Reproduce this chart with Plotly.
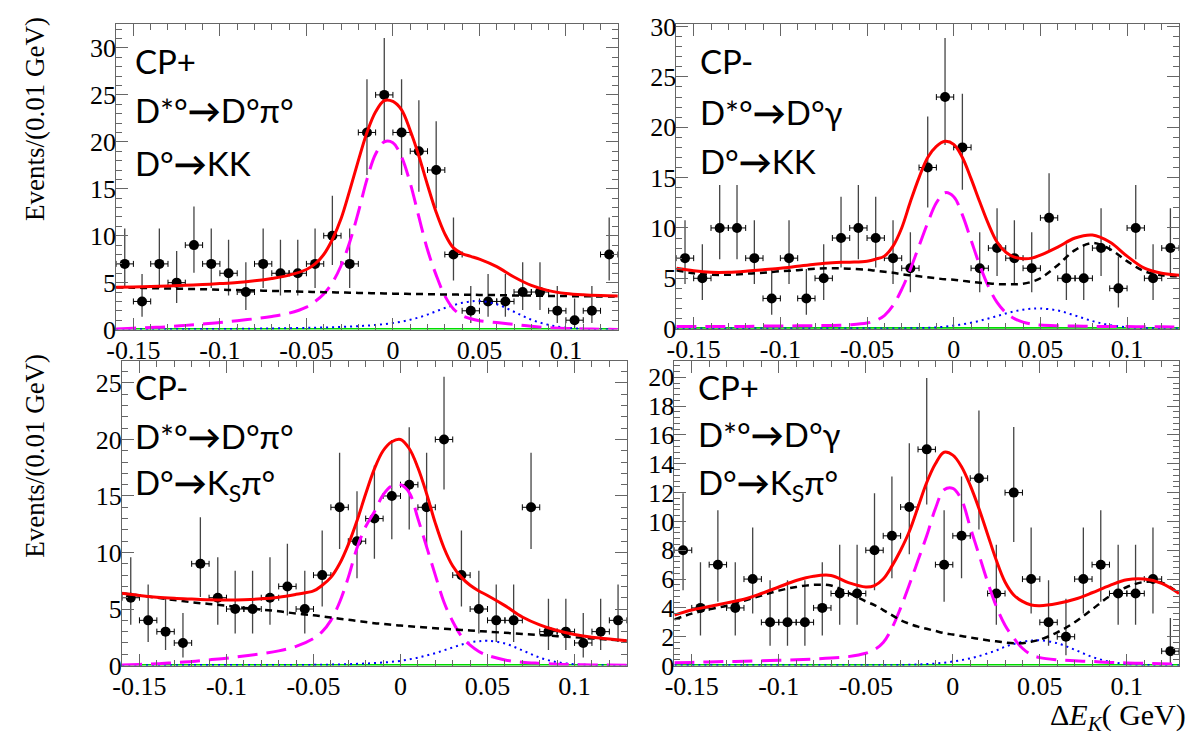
import plotly.graph_objects as go

W, H = 1188, 752

# ---------------- data ----------------
bin_centers = [-0.155, -0.145, -0.135, -0.125, -0.115, -0.105, -0.095, -0.085, -0.075, -0.065,
               -0.055, -0.045, -0.035, -0.025, -0.015, -0.005, 0.005, 0.015, 0.025, 0.035,
               0.045, 0.055, 0.065, 0.075, 0.085, 0.095, 0.105, 0.115, 0.125]

counts_p1 = [7, 3, 7, 5, 9, 7, 6, 4, 7, 6, 6, 7, 10, 7, 21, 25, 21, 19, 17, 8, 2, 3, 3, 4, 4, 2, 1, 2, 8]
counts_p2 = [7, 5, 10, 10, 7, 3, 7, 3, 5, 9, 10, 9, 7, 6, 16, 23, 18, 6, 8, 7, 6, 11, 5, 5, 8, 4, 10, 5, 8]
counts_p3 = [6, 4, 3, 2, 9, 6, 5, 5, 6, 7, 5, 8, 14, 11, 13, 15, 16, 14, 20, 8, 5, 4, 4, 14, 3, 3, 2, 3, 4]
counts_p4 = [8, 4, 7, 4, 6, 3, 3, 3, 4, 5, 5, 8, 9, 11, 15, 7, 9, 13, 5, 12, 6, 3, 2, 6, 7, 5, 5, 6, 1]

# Poisson (Garwood 68%) error table: n -> (low, high)
poisson_err = {
    0: (0.00, 1.84), 1: (0.83, 2.30), 2: (1.29, 2.64), 3: (1.63, 2.92), 4: (1.91, 3.16),
    5: (2.16, 3.38), 6: (2.38, 3.58), 7: (2.58, 3.77), 8: (2.77, 3.95), 9: (2.94, 4.11),
    10: (3.11, 4.27), 11: (3.27, 4.42), 12: (3.42, 4.56), 13: (3.56, 4.70), 14: (3.70, 4.83),
    15: (3.83, 4.96), 16: (3.96, 5.08), 17: (4.08, 5.20), 18: (4.20, 5.32), 19: (4.32, 5.44),
    20: (4.43, 5.55), 21: (4.54, 5.66), 22: (4.65, 5.76), 23: (4.76, 5.87), 24: (4.86, 5.97),
    25: (4.97, 6.07),
}

curve_x = [-0.16, -0.15, -0.14, -0.13, -0.12, -0.11, -0.10, -0.09, -0.08, -0.07, -0.06, -0.05,
           -0.045, -0.04, -0.035, -0.03, -0.025, -0.02, -0.015, -0.01, -0.005, 0.0, 0.005, 0.01,
           0.015, 0.02, 0.025, 0.03, 0.035, 0.04, 0.045, 0.05, 0.06, 0.07, 0.08, 0.09, 0.10, 0.11,
           0.12, 0.13]

# Panel 1: CP+, D*0 -> D0 pi0, D0 -> KK
total_p1 = [4.5, 4.55, 4.6, 4.65, 4.72, 4.8, 4.9, 5.02, 5.2, 5.45, 5.8, 6.4,
            7.0, 8.0, 9.6, 11.8, 14.8, 18.0, 21.0, 23.2, 24.4, 24.3, 23.4, 21.2,
            18.5, 15.4, 12.5, 10.2, 8.7, 8.1, 7.8, 7.5, 6.7, 5.6, 4.7, 4.15, 3.85, 3.7,
            3.62, 3.58]
bkg_p1 = [4.5, 4.46, 4.42, 4.38, 4.34, 4.3, 4.25, 4.21, 4.17, 4.12, 4.08, 4.03,
          4.01, 3.99, 3.97, 3.95, 3.93, 3.91, 3.89, 3.87, 3.85, 3.83, 3.82, 3.80,
          3.79, 3.77, 3.76, 3.74, 3.73, 3.72, 3.71, 3.69, 3.67, 3.64, 3.62, 3.59, 3.57, 3.55,
          3.53, 3.51]
sig_p1 = [0.07, 0.15, 0.22, 0.3, 0.45, 0.6, 0.75, 0.95, 1.15, 1.4, 1.75, 2.4,
          3.0, 3.8, 5.0, 6.8, 9.3, 12.5, 16.0, 18.7, 20.0, 19.9, 18.4, 15.6,
          12.0, 8.5, 5.8, 3.6, 2.2, 1.5, 1.15, 0.95, 0.75, 0.55, 0.35, 0.2, 0.12, 0.07,
          0.04, 0.02]
peak_p1 = [0.02, 0.02, 0.03, 0.03, 0.04, 0.05, 0.06, 0.08, 0.1, 0.12, 0.15, 0.18,
           0.2, 0.22, 0.25, 0.28, 0.32, 0.37, 0.42, 0.5, 0.58, 0.7, 0.85, 1.05,
           1.3, 1.6, 1.95, 2.3, 2.6, 2.85, 3.0, 3.05, 2.7, 1.9, 1.05, 0.5, 0.2, 0.08,
           0.03, 0.01]

# Panel 2: CP-, D*0 -> D0 gamma, D0 -> KK
total_p2 = [6.0, 5.75, 5.6, 5.6, 5.7, 5.85, 6.0, 6.2, 6.4, 6.55, 6.6, 6.7,
            6.9, 7.2, 8.2, 10.0, 12.6, 15.0, 17.0, 18.1, 18.6, 18.3, 17.0, 14.9,
            12.6, 10.4, 8.6, 7.6, 7.1, 6.95, 7.0, 7.3, 8.1, 9.0, 9.3, 8.6, 7.2, 6.0,
            5.5, 5.3]
bkg_p2 = [5.8, 5.5, 5.35, 5.35, 5.45, 5.55, 5.7, 5.8, 5.95, 6.0, 5.95, 5.85,
          5.75, 5.65, 5.55, 5.4, 5.3, 5.2, 5.1, 5.0, 4.9, 4.85, 4.75, 4.65,
          4.55, 4.5, 4.42, 4.4, 4.4, 4.45, 4.65, 5.0, 6.3, 7.8, 8.5, 7.9, 6.7, 5.7,
          5.3, 5.2]
sig_p2 = [0.2, 0.2, 0.2, 0.22, 0.22, 0.25, 0.25, 0.28, 0.3, 0.32, 0.38, 0.55,
          0.8, 1.3, 2.3, 3.9, 5.9, 8.2, 10.5, 12.5, 13.5, 13.1, 11.3, 8.8,
          6.3, 4.2, 2.6, 1.6, 1.0, 0.65, 0.45, 0.35, 0.28, 0.25, 0.22, 0.2, 0.2, 0.18,
          0.18, 0.17]
peak_p2 = [0.02, 0.02, 0.02, 0.02, 0.02, 0.02, 0.02, 0.02, 0.02, 0.02, 0.02, 0.02,
           0.02, 0.02, 0.02, 0.02, 0.03, 0.05, 0.08, 0.12, 0.2, 0.3, 0.42, 0.58,
           0.78, 1.0, 1.25, 1.5, 1.72, 1.88, 1.98, 2.0, 1.8, 1.3, 0.75, 0.35, 0.13, 0.05,
           0.02, 0.01]

# Panel 3: CP-, D*0 -> D0 pi0, D0 -> KS pi0
total_p3 = [6.4, 6.2, 6.05, 5.95, 5.88, 5.82, 5.8, 5.82, 5.9, 6.05, 6.3, 6.6,
            7.1, 7.8, 9.0, 10.7, 12.8, 15.2, 17.4, 19.0, 19.8, 20.0, 19.2, 17.5,
            15.2, 12.6, 10.4, 8.8, 7.8, 7.1, 6.6, 6.2, 5.3, 4.3, 3.6, 3.1, 2.75, 2.5,
            2.35, 2.2]
bkg_p3 = [6.4, 6.2, 6.0, 5.8, 5.6, 5.45, 5.3, 5.1, 4.95, 4.8, 4.6, 4.45,
          4.35, 4.25, 4.15, 4.05, 3.95, 3.85, 3.75, 3.68, 3.6, 3.55, 3.48, 3.42,
          3.36, 3.3, 3.25, 3.2, 3.15, 3.1, 3.05, 3.0, 2.9, 2.8, 2.7, 2.6, 2.5, 2.4,
          2.3, 2.2]
sig_p3 = [0.05, 0.1, 0.15, 0.25, 0.35, 0.5, 0.65, 0.85, 1.05, 1.3, 1.7, 2.4,
          3.0, 4.0, 5.6, 7.8, 10.4, 12.3, 13.6, 15.1, 15.9, 16.0, 15.3, 13.0,
          10.5, 8.0, 5.6, 3.9, 2.6, 1.8, 1.25, 0.9, 0.5, 0.3, 0.2, 0.12, 0.08, 0.05,
          0.04, 0.03]
peak_p3 = [0.03, 0.03, 0.03, 0.03, 0.04, 0.04, 0.04, 0.04, 0.05, 0.05, 0.05, 0.06,
           0.07, 0.08, 0.1, 0.12, 0.15, 0.18, 0.22, 0.27, 0.33, 0.42, 0.55, 0.7,
           0.9, 1.1, 1.35, 1.6, 1.85, 2.05, 2.15, 2.2, 1.95, 1.35, 0.7, 0.3, 0.12, 0.05,
           0.02, 0.01]

# Panel 4: CP+, D*0 -> D0 gamma, D0 -> KS pi0
total_p4 = [3.5, 3.85, 4.1, 4.35, 4.6, 5.0, 5.45, 5.9, 6.2, 6.25, 5.75, 5.45,
            5.55, 6.0, 6.9, 8.0, 9.3, 11.0, 12.7, 14.0, 14.8, 14.6, 13.8, 12.5,
            10.9, 9.1, 7.3, 5.8, 4.9, 4.45, 4.2, 4.15, 4.3, 4.6, 5.05, 5.55, 5.95, 6.0,
            5.7, 5.0]
bkg_p4 = [3.2, 3.6, 3.9, 4.15, 4.5, 4.85, 5.2, 5.45, 5.6, 5.55, 5.05, 4.45,
          4.2, 3.85, 3.5, 3.15, 2.9, 2.7, 2.55, 2.4, 2.25, 2.15, 2.05, 1.95,
          1.85, 1.75, 1.68, 1.6, 1.55, 1.55, 1.65, 1.8, 2.3, 3.0, 3.9, 4.8, 5.45, 5.8,
          5.75, 5.0]
sig_p4 = [0.2, 0.22, 0.25, 0.28, 0.3, 0.33, 0.37, 0.4, 0.45, 0.52, 0.62, 0.85,
          1.1, 1.6, 2.6, 4.0, 5.6, 7.3, 9.0, 10.9, 12.2, 12.3, 11.5, 9.6,
          7.7, 5.8, 4.1, 2.8, 1.9, 1.2, 0.75, 0.55, 0.4, 0.33, 0.28, 0.22, 0.18, 0.15,
          0.12, 0.1]
peak_p4 = [0.02, 0.02, 0.02, 0.02, 0.02, 0.02, 0.02, 0.02, 0.02, 0.02, 0.02, 0.02,
           0.02, 0.03, 0.03, 0.04, 0.05, 0.07, 0.1, 0.14, 0.2, 0.28, 0.38, 0.5,
           0.65, 0.85, 1.05, 1.3, 1.5, 1.65, 1.73, 1.75, 1.55, 1.1, 0.6, 0.27, 0.1, 0.04,
           0.02, 0.01]

zero_x = [-0.16, 0.13]
zero_y = [0, 0]

ARROW = "<b>→</b>"
labels_p1 = ["CP+", f"D*°{ARROW}D°π°", f"D°{ARROW}KK"]
labels_p2 = ["CP-", f"D*°{ARROW}D°γ", f"D°{ARROW}KK"]
labels_p3 = ["CP-", f"D*°{ARROW}D°π°", f"D°{ARROW}K<sub>S</sub>π°"]
labels_p4 = ["CP+", f"D*°{ARROW}D°γ", f"D°{ARROW}K<sub>S</sub>π°"]

x_tickvals = [-0.15, -0.1, -0.05, 0, 0.05, 0.1]
x_ticktext = ["-0.15", "-0.1", "-0.05", "0", "0.05", "0.1"]
x_range = [-0.16, 0.13]

y_title = "Events/(0.01 GeV)"
x_title = "Δ<i>E</i><sub><i>K</i></sub>( GeV)"

# ---------------- layout (pixel geometry) ----------------
panels = [
    dict(box=(107, 613, 13, 330), ymax=32.6, ydt=5, ymin_dt=1,
         counts=counts_p1, tot=total_p1, bkg=bkg_p1, sig=sig_p1, pk=peak_p1,
         labels=labels_p1, lab_x=124, lab_y=[52, 103, 157]),
    dict(box=(672, 1179, 13, 329), ymax=30.3, ydt=5, ymin_dt=1,
         counts=counts_p2, tot=total_p2, bkg=bkg_p2, sig=sig_p2, pk=peak_p2,
         labels=labels_p2, lab_x=694, lab_y=[52, 105, 155]),
    dict(box=(113, 622, 363, 678), ymax=26.9, ydt=5, ymin_dt=1,
         counts=counts_p3, tot=total_p3, bkg=bkg_p3, sig=sig_p3, pk=peak_p3,
         labels=labels_p3, lab_x=124, lab_y=[389, 440, 490]),
    dict(box=(670, 1179, 363, 678), ymax=21.1, ydt=2, ymin_dt=0.4,
         counts=counts_p4, tot=total_p4, bkg=bkg_p4, sig=sig_p4, pk=peak_p4,
         labels=labels_p4, lab_x=692, lab_y=[389, 438, 490]),
]

FRAME = "#666666"
SERIF = "Liberation Serif, Times New Roman, serif"
TICKFONT = dict(family=SERIF, size=26, color="black")
LABFONT = dict(family="Lato, 'Noto Sans', 'DejaVu Sans', sans-serif", size=33, color="black")

fig = go.Figure()
layout = dict(width=W, height=H, margin=dict(l=0, r=0, t=0, b=0),
              paper_bgcolor="white", plot_bgcolor="white", showlegend=False)
annotations = []

for i, p in enumerate(panels):
    n = i + 1
    xa = "x" if n == 1 else f"x{n}"
    ya = "y" if n == 1 else f"y{n}"
    l, r, t, b = p["box"]
    layout["xaxis" if n == 1 else f"xaxis{n}"] = dict(
        domain=[l / W, r / W], anchor=ya, range=x_range,
        tickvals=x_tickvals, ticktext=x_ticktext, tickfont=TICKFONT,
        ticks="inside", ticklen=12, tickcolor=FRAME, tickwidth=1,
        showline=True, linecolor=FRAME, linewidth=1, mirror="allticks",
        showgrid=False, zeroline=False, ticklabelstandoff=-3,
        minor=dict(ticks="inside", ticklen=6, dtick=0.01, tick0=0, tickcolor=FRAME, showgrid=False),
    )
    layout["yaxis" if n == 1 else f"yaxis{n}"] = dict(
        domain=[1 - b / H, 1 - t / H], anchor=xa, range=[0, p["ymax"]],
        dtick=p["ydt"], tick0=0, tickfont=TICKFONT,
        ticks="inside", ticklen=12, tickcolor=FRAME, tickwidth=1,
        showline=True, linecolor=FRAME, linewidth=1, mirror="allticks",
        showgrid=False, zeroline=False, ticklabelstandoff=-6,
        minor=dict(ticks="inside", ticklen=6, dtick=p["ymin_dt"], tick0=0, tickcolor=FRAME, showgrid=False),
    )

    cnt = p["counts"]
    err_hi = [poisson_err[c][1] for c in cnt]
    err_lo = [poisson_err[c][0] for c in cnt]

    fig.add_trace(go.Scatter(
        x=bin_centers, y=cnt, mode="markers", xaxis=xa, yaxis=ya,
        marker=dict(color="black", size=10),
        error_y=dict(type="data", array=err_hi, arrayminus=err_lo, symmetric=False,
                     color="#444444", thickness=1.3, width=0),
        error_x=dict(type="constant", value=0.005, color="black", thickness=1, width=3),
        hoverinfo="skip",
    ))
    fig.add_trace(go.Scatter(x=zero_x, y=zero_y, mode="lines", xaxis=xa, yaxis=ya,
                             line=dict(color="#00dd00", width=3), hoverinfo="skip"))
    fig.add_trace(go.Scatter(x=curve_x, y=p["pk"], mode="lines", xaxis=xa, yaxis=ya,
                             line=dict(color="#0000ff", width=2, dash="2px,4px", shape="spline", smoothing=1),
                             hoverinfo="skip"))
    fig.add_trace(go.Scatter(x=curve_x, y=p["sig"], mode="lines", xaxis=xa, yaxis=ya,
                             line=dict(color="#ff00ff", width=3, dash="20px,9px", shape="spline", smoothing=1),
                             hoverinfo="skip"))
    fig.add_trace(go.Scatter(x=curve_x, y=p["bkg"], mode="lines", xaxis=xa, yaxis=ya,
                             line=dict(color="black", width=2.5, dash="7px,5px", shape="spline", smoothing=1),
                             hoverinfo="skip"))
    fig.add_trace(go.Scatter(x=curve_x, y=p["tot"], mode="lines", xaxis=xa, yaxis=ya,
                             line=dict(color="#ff0000", width=3, shape="spline", smoothing=1),
                             hoverinfo="skip"))

    for txt, yc in zip(p["labels"], p["lab_y"]):
        annotations.append(dict(text=txt, xref="paper", yref="paper",
                                x=p["lab_x"] / W, y=1 - yc / H, xanchor="left", yanchor="middle",
                                showarrow=False, font=LABFONT))

for yc in (112, 461):
    annotations.append(dict(text=y_title, xref="paper", yref="paper", x=25 / W, y=1 - yc / H,
                            xanchor="center", yanchor="middle", textangle=-90, showarrow=False,
                            font=dict(family=SERIF, size=27, color="black")))
annotations.append(dict(text=x_title, xref="paper", yref="paper", x=1187 / W, y=0.0,
                        xanchor="right", yanchor="bottom", showarrow=False, borderpad=0,
                        font=dict(family=SERIF, size=30, color="black")))

layout["annotations"] = annotations
fig.update_layout(**layout)
fig.write_html("out.html")
